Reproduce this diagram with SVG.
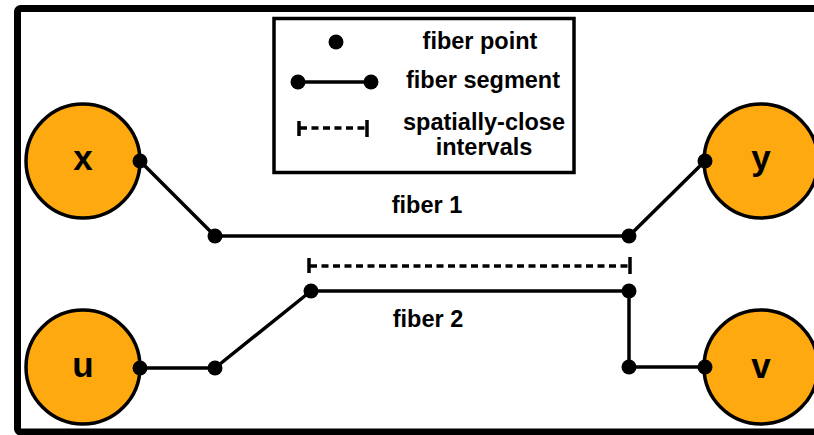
<svg xmlns="http://www.w3.org/2000/svg" width="814" height="435" viewBox="0 0 814 435">
<style>
text{font-family:"Liberation Sans",Arial,sans-serif;font-weight:bold;fill:#000}
.lbl{font-size:23.5px;text-anchor:middle}
.node{font-size:35px;text-anchor:middle}
.ln{stroke:#000;stroke-width:3.5;fill:none;stroke-linejoin:round}
.dash{stroke:#000;stroke-width:3.5;fill:none;stroke-dasharray:7 4.5}
.cap{stroke:#000;stroke-width:3.5}
.circ{fill:#FDA90F;stroke:#000;stroke-width:3.5}
</style>
<defs>
<circle id="pt" r="7.5" fill="#000"/>
</defs>
<rect x="0" y="0" width="814" height="435" fill="#fff"/>
<rect id="frame" x="17.5" y="8.5" width="820" height="423.5" rx="3" fill="none" stroke="#000" stroke-width="7"/>
<g id="legend">
<rect x="274" y="18.5" width="300" height="154" fill="#fff" stroke="#000" stroke-width="3.5"/>
<use href="#pt" x="336" y="42"/>
<line class="ln" x1="298" y1="82" x2="371" y2="82"/>
<use href="#pt" x="298" y="82"/>
<use href="#pt" x="371" y="82"/>
<line class="dash" x1="300" y1="128" x2="366" y2="128"/>
<line class="cap" x1="299" y1="121" x2="299" y2="136"/>
<line class="cap" x1="367" y1="120" x2="367" y2="137"/>
<text class="lbl" x="480" y="49">fiber point</text>
<text class="lbl" x="483" y="88">fiber segment</text>
<text class="lbl" x="484" y="130">spatially-close</text>
<text class="lbl" x="484" y="155">intervals</text>
</g>
<g id="connectors">
<polyline id="fiber1" class="ln" points="140,161 215,236 629,236 705,161"/>
<polyline id="fiber2" class="ln" points="140,368 215,368 311,291 629,291 629,367 705,367"/>
<g id="close-interval">
<line class="dash" x1="310" y1="266" x2="628" y2="266"/>
<line class="cap" x1="309" y1="258" x2="309" y2="273"/>
<line class="cap" x1="630" y1="257" x2="630" y2="274"/>
</g>
<use href="#pt" x="215" y="236"/>
<use href="#pt" x="629" y="236"/>
<use href="#pt" x="215" y="368"/>
<use href="#pt" x="311" y="291"/>
<use href="#pt" x="629" y="291"/>
<use href="#pt" x="629" y="367"/>
<text class="lbl" x="427" y="213">fiber 1</text>
<text class="lbl" x="428" y="327">fiber 2</text>
</g>
<g id="node-x">
<circle class="circ" cx="83" cy="161" r="57"/>
<text class="node" x="83" y="170">x</text>
<use href="#pt" x="140" y="161"/>
</g>
<g id="node-y">
<circle class="circ" cx="761" cy="161" r="57"/>
<text class="node" x="761" y="170">y</text>
<use href="#pt" x="705" y="161"/>
</g>
<g id="node-u">
<circle class="circ" cx="83" cy="367" r="57"/>
<text class="node" x="83" y="377">u</text>
<use href="#pt" x="140" y="368"/>
</g>
<g id="node-v">
<circle class="circ" cx="761" cy="367" r="57"/>
<text class="node" x="761" y="378">v</text>
<use href="#pt" x="705" y="367"/>
</g>
</svg>
